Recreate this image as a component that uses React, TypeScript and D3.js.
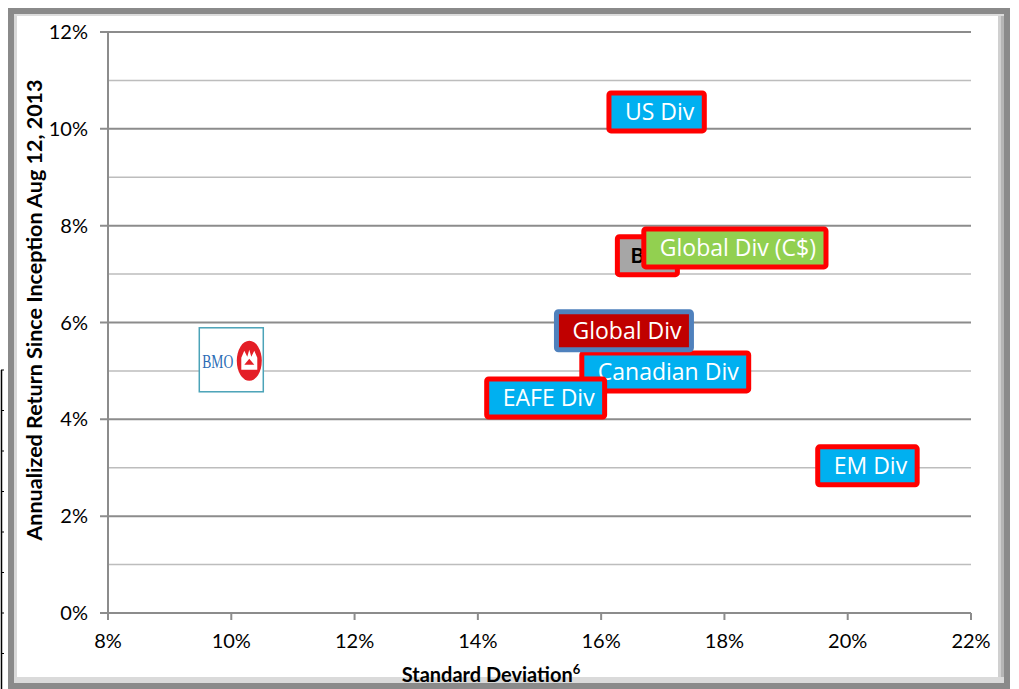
import { useEffect, useRef } from "react";
import * as d3 from "d3";

// fund labels: standard deviation (%), annualized return (%)
const funds = ["Canadian Div", "Global Div", "EAFE Div", "Bmk", "Global Div (C$)", "US Div", "EM Div"];
const stdDev = [17.04, 16.37, 15.1, 16.75, 18.17, 16.9, 20.32];
const annReturn = [4.98, 5.83, 4.44, 7.38, 7.54, 10.35, 3.04];
const fills = ["#00B0F0", "#C00000", "#00B0F0", "#A6A6A6", "#92D050", "#00B0F0", "#00B0F0"];
const borders = ["#FF0000", "#4F81BD", "#FF0000", "#FF0000", "#FF0000", "#FF0000", "#FF0000"];

const xTicks = [8, 10, 12, 14, 16, 18, 20, 22];
const yTicks = [0, 2, 4, 6, 8, 10, 12];
const yMinor = [1, 3, 5, 7, 9, 11];

// logo position (std dev, return)
const logoAt = [10.0, 5.23];

export default function App() {
  const svgRef = useRef<SVGSVGElement>(null);

  useEffect(() => {
    if (!svgRef.current) return;
    const svg = d3.select(svgRef.current);
    svg.selectAll("*").remove();

    const x = d3.scaleLinear().domain([8, 22]).range([108, 971]);
    const y = d3.scaleLinear().domain([0, 12]).range([613, 32]);

    // stray edge of a neighbouring object
    svg.append("line").attr("x1", 1.5).attr("x2", 1.5).attr("y1", 370).attr("y2", 689)
      .attr("stroke", "#000").attr("stroke-width", 1.5);
    svg.selectAll(".stray").data(d3.range(370, 689, 40.5)).enter().append("line")
      .attr("x1", 1).attr("x2", 4).attr("y1", (d) => d).attr("y2", (d) => d)
      .attr("stroke", "#000").attr("stroke-width", 1);

    // frame
    svg.append("rect").attr("x", 11).attr("y", 11).attr("width", 996).attr("height", 675)
      .attr("fill", "#fff").attr("stroke", "#8a8a8a").attr("stroke-width", 6);
    svg.append("rect").attr("x", 14).attr("y", 14).attr("width", 3).attr("height", 669).attr("fill", "#d9d9d9");
    svg.append("rect").attr("x", 14).attr("y", 14).attr("width", 990).attr("height", 2).attr("fill", "#dcdcdc");
    svg.append("rect").attr("x", 998).attr("y", 16).attr("width", 6).attr("height", 667).attr("fill", "#d0d0d0");
    svg.append("rect").attr("x", 1001).attr("y", 16).attr("width", 3).attr("height", 667).attr("fill", "#b5b5b5");
    svg.append("rect").attr("x", 17).attr("y", 677).attr("width", 987).attr("height", 6).attr("fill", "#dadada");

    const g = svg.append("g");

    // grid
    g.selectAll(".minor").data(yMinor).enter().append("line")
      .attr("x1", x(8)).attr("x2", x(22)).attr("y1", (d) => y(d)).attr("y2", (d) => y(d))
      .attr("stroke", "#bdbdbd").attr("stroke-width", 1.5);
    g.selectAll(".major").data(yTicks.filter((d) => d > 0)).enter().append("line")
      .attr("x1", x(8) - 8).attr("x2", x(22)).attr("y1", (d) => y(d)).attr("y2", (d) => y(d))
      .attr("stroke", "#8c8c8c").attr("stroke-width", 2);

    // axes
    g.append("line").attr("x1", x(8)).attr("x2", x(8)).attr("y1", y(12)).attr("y2", y(0) + 7)
      .attr("stroke", "#8c8c8c").attr("stroke-width", 2);
    g.append("line").attr("x1", x(8) - 8).attr("x2", x(22)).attr("y1", y(0)).attr("y2", y(0))
      .attr("stroke", "#8c8c8c").attr("stroke-width", 2);
    g.selectAll(".xt").data(xTicks).enter().append("line")
      .attr("x1", (d) => x(d)).attr("x2", (d) => x(d)).attr("y1", y(0)).attr("y2", y(0) + 7)
      .attr("stroke", "#8c8c8c").attr("stroke-width", 2);

    const tickFont = "Lato, 'Open Sans', sans-serif";
    g.selectAll(".yl").data(yTicks).enter().append("text")
      .attr("x", x(8) - 20).attr("y", (d) => y(d)).attr("dy", "0.35em")
      .attr("text-anchor", "end").attr("font-family", tickFont).attr("font-size", 20)
      .attr("fill", "#000").text((d) => `${d}%`);
    g.selectAll(".xl").data(xTicks).enter().append("text")
      .attr("x", (d) => x(d)).attr("y", y(0) + 35)
      .attr("text-anchor", "middle").attr("font-family", tickFont).attr("font-size", 20)
      .attr("fill", "#000").text((d) => `${d}%`);

    // titles
    const xt = g.append("text").attr("x", 491).attr("y", 682).attr("text-anchor", "middle")
      .attr("font-family", tickFont).attr("font-size", 20).attr("font-weight", "bold");
    xt.append("tspan").text("Standard Deviation");
    xt.append("tspan").attr("dy", -8).attr("font-size", 13).text("6");
    g.append("text").attr("transform", `translate(42,310) rotate(-90)`).attr("text-anchor", "middle")
      .attr("font-family", tickFont).attr("font-size", 21.5).attr("font-weight", "bold")
      .text("Annualized Return Since Inception Aug 12, 2013");

    // logo
    const lx = x(logoAt[0]);
    const ly = y(logoAt[1]);
    const logo = g.append("g").attr("transform", `translate(${lx},${ly})`);
    logo.append("rect").attr("x", -32).attr("y", -32).attr("width", 64).attr("height", 64)
      .attr("fill", "#fff").attr("stroke", "#4BA3B8").attr("stroke-width", 1.5);
    logo.append("text").attr("x", -29).attr("y", 8).attr("font-family", "'Liberation Serif', serif")
      .attr("font-size", 19).attr("fill", "#2A6BB5").attr("textLength", 31).attr("lengthAdjust", "spacingAndGlyphs")
      .text("BMO");
    logo.append("ellipse").attr("cx", 18).attr("cy", 1).attr("rx", 12.5).attr("ry", 20).attr("fill", "#E41E26");
    logo.append("path")
      .attr("d", "M10,-2 L13,-9 L16,-3 L18,-10 L20,-3 L23,-9 L26,-2 L26,10 L10,10 Z")
      .attr("fill", "#fff");
    logo.append("path").attr("d", "M13,5 L18,-1 L23,5 Z").attr("fill", "#E41E26");

    // labels
    const labels = g.selectAll(".lab").data(funds.map((f, i) => i)).enter().append("g");
    labels.each(function (i) {
      const lg = d3.select(this);
      const cx = x(stdDev[i]);
      const cy = y(annReturn[i]);
      const rect = lg.append("rect");
      const isBmk = funds[i] === "Bmk";
      const t = lg.append("text").attr("font-family", isBmk ? tickFont : "'Open Sans', sans-serif")
        .attr("font-size", isBmk ? 21 : 23).attr("font-weight", isBmk ? "bold" : "normal")
        .attr("fill", isBmk ? "#000" : "#fff").attr("dy", "0.36em").text(funds[i]);
      const tw = (t.node() as SVGTextElement).getComputedTextLength();
      const w = isBmk ? 60 : tw + 26;
      const h = 38;
      rect.attr("x", cx - w / 2).attr("y", cy - h / 2).attr("width", w).attr("height", h)
        .attr("rx", 2).attr("fill", fills[i]).attr("stroke", borders[i]).attr("stroke-width", 5);
      t.attr("x", isBmk ? cx - w / 2 + 13 : cx - w / 2 + 16).attr("y", cy);
    });
  }, []);

  return (
    <>
      <style>{`body{margin:0}`}</style>
      <svg ref={svgRef} width={1019} height={689} style={{ display: "block" }} />
    </>
  );
}
